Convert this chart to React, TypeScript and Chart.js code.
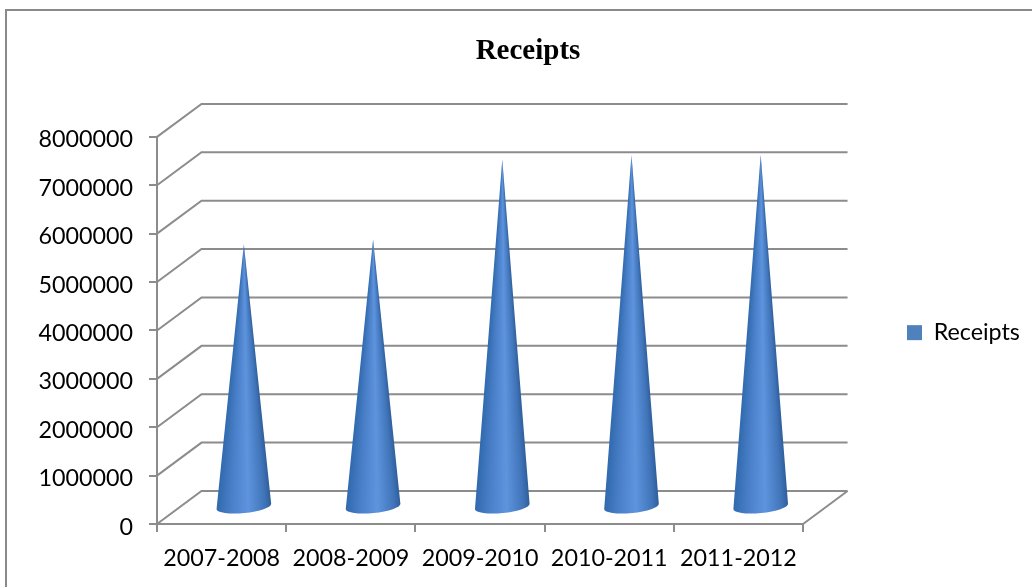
import { useEffect, useRef } from "react";
import { Chart, registerables } from "chart.js";

Chart.register(...registerables);

// Financial years and yearly receipts
const years = ["2007-2008", "2008-2009", "2009-2010", "2010-2011", "2011-2012"];
const receipts = [5440000, 5540000, 7190000, 7290000, 7290000];
const seriesName = "Receipts";

const AXIS_GREY = "#8c8c8c";
const BORDER_GREY = "#8a8a8a";
const LEGEND_BLUE = "#4f81bd";
const LABEL_FONT = { family: "Lato", size: 23.3 };

// Depth of the pseudo-3D box: how far the back wall sits from the front plane
const DEPTH_X = 44.5;
const DEPTH_Y = -33;

// Outline of the chart frame (top and left edges only)
const framePlugin = {
  id: "frame",
  beforeDraw(chart: any) {
    const { ctx, width, height } = chart;
    ctx.save();
    ctx.strokeStyle = BORDER_GREY;
    ctx.lineWidth = 2;
    ctx.beginPath();
    ctx.moveTo(6, height);
    ctx.lineTo(6, 10);
    ctx.lineTo(width, 10);
    ctx.stroke();
    ctx.restore();
  },
};

// Title and legend are placed by hand after the layout pass
const placementPlugin = {
  id: "placement",
  afterLayout(chart: any) {
    const t = chart.titleBlock;
    t.left += 60;
    t.right += 60;
    const l = chart.legend;
    const w = l.width;
    const h = l.height;
    l.left = 897;
    l.right = 897 + w;
    l.top = 311;
    l.bottom = 311 + h;
  },
};

// Receding grid lines running from the value axis onto the back wall
const depthGridPlugin = {
  id: "depthGrid",
  beforeDatasetsDraw(chart: any) {
    const { ctx, scales, chartArea } = chart;
    const y = scales.y;
    ctx.save();
    ctx.strokeStyle = AXIS_GREY;
    ctx.lineWidth = 2;
    y.ticks.forEach((t: any) => {
      const py = y.getPixelForValue(t.value);
      ctx.beginPath();
      ctx.moveTo(chartArea.left, py);
      ctx.lineTo(chartArea.left + DEPTH_X, py + DEPTH_Y);
      ctx.lineTo(chartArea.right + DEPTH_X, py + DEPTH_Y);
      ctx.stroke();
    });
    const floor = y.getPixelForValue(0);
    ctx.beginPath();
    ctx.moveTo(chartArea.right, floor);
    ctx.lineTo(chartArea.right + DEPTH_X, floor + DEPTH_Y);
    ctx.stroke();
    ctx.restore();
  },
};

// Replaces each bar element with a shaded cone standing mid-way in the box
const conePlugin = {
  id: "cones",
  beforeDatasetDraw(chart: any, args: any) {
    const { ctx } = chart;
    args.meta.data.forEach((bar: any) => {
      const cx = bar.x + DEPTH_X / 2;
      const apexY = bar.y + DEPTH_Y / 2;
      const baseY = bar.base + DEPTH_Y / 2;
      const rx = bar.width / 2;
      const ry = 6.5;
      const tilt = -0.1;

      const rightAngle = Math.atan2(baseY - apexY, rx);
      const leftAngle = Math.atan2(baseY - apexY, -rx);
      const span = (leftAngle - rightAngle) / (2 * Math.PI);
      const shade = ctx.createConicGradient(rightAngle, cx, apexY);
      shade.addColorStop(0, "#2f5f9c");
      shade.addColorStop(span * 0.12, "#4175ba");
      shade.addColorStop(span * 0.42, "#5d94dd");
      shade.addColorStop(span * 0.72, "#4a80c9");
      shade.addColorStop(span, "#3069ad");
      shade.addColorStop(1, "#2f5f9c");

      ctx.save();
      ctx.fillStyle = shade;
      ctx.beginPath();
      ctx.moveTo(cx, apexY);
      ctx.ellipse(cx, baseY, rx, ry, tilt, Math.PI, 0, true);
      ctx.closePath();
      ctx.fill();
      ctx.restore();
    });
    return false;
  },
};

export default function App() {
  const canvasRef = useRef<HTMLCanvasElement | null>(null);

  useEffect(() => {
    const chart = new Chart(canvasRef.current as HTMLCanvasElement, {
      type: "bar",
      data: {
        labels: years,
        datasets: [
          {
            label: seriesName,
            data: receipts,
            backgroundColor: LEGEND_BLUE,
            barPercentage: 0.425,
            categoryPercentage: 1,
          },
        ],
      },
      plugins: [framePlugin, placementPlugin, depthGridPlugin, conePlugin],
      options: {
        responsive: false,
        animation: false,
        layout: { autoPadding: false, padding: { left: 0, right: 96, top: 0, bottom: 0 } },
        plugins: {
          tooltip: { enabled: false },
          title: {
            display: true,
            text: seriesName,
            color: "#000000",
            font: { family: "Liberation Serif", size: 29, weight: "bold", lineHeight: 1 },
            padding: { top: 37.5, bottom: 70.4 },
          },
          legend: {
            position: "right",
            align: "start",
            labels: {
              color: "#000000",
              font: LABEL_FONT,
              boxWidth: 15,
              boxHeight: 15,
              padding: 10,
            },
          },
        },
        scales: {
          x: {
            afterFit(scale: any) {
              scale.height = 63;
            },
            border: { display: true, color: AXIS_GREY, width: 2 },
            grid: { drawOnChartArea: false, color: AXIS_GREY, lineWidth: 2, tickLength: 8 },
            ticks: { color: "#000000", font: LABEL_FONT, padding: 12, maxRotation: 0, autoSkip: false },
          },
          y: {
            min: 0,
            max: 8000000,
            afterFit(scale: any) {
              scale.width = 157;
            },
            border: { display: true, color: AXIS_GREY, width: 2 },
            grid: { drawOnChartArea: false, color: AXIS_GREY, lineWidth: 2, tickLength: 8 },
            ticks: {
              color: "#000000",
              font: LABEL_FONT,
              padding: 16,
              labelOffset: 3,
              stepSize: 1000000,
              callback: (v: any) => String(v),
            },
          },
        },
      },
    } as any);
    return () => chart.destroy();
  }, []);

  return (
    <canvas
      ref={canvasRef}
      width={1032}
      height={587}
      style={{ position: "fixed", left: 0, top: 0, display: "block" }}
    />
  );
}
